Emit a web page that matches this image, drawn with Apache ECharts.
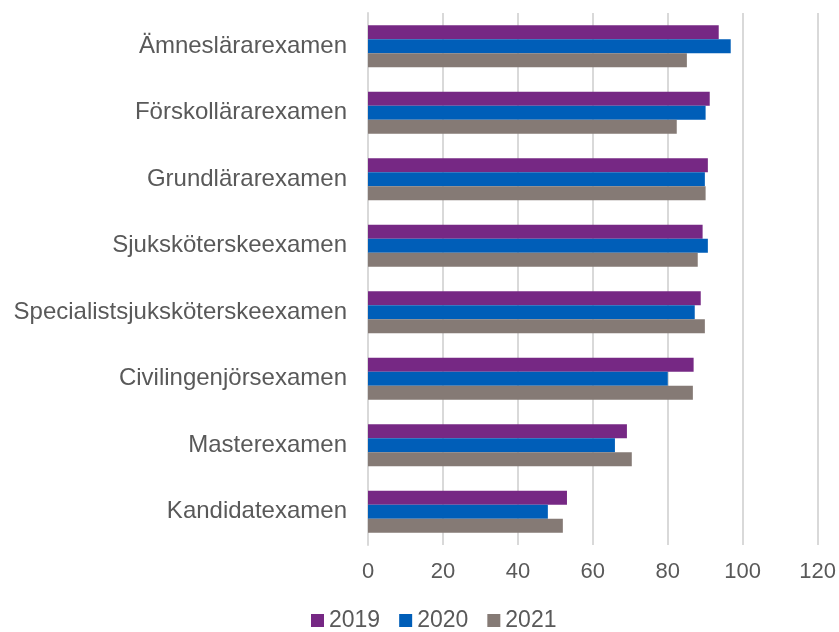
<!DOCTYPE html>
<html>
<head>
<meta charset="utf-8">
<script src="https://cdn.jsdelivr.net/npm/echarts@6/dist/echarts.min.js"></script>
<style>
html, body { margin: 0; padding: 0; background: #fff; }
#chart { width: 839px; height: 632px; }
</style>
</head>
<body>
<div id="chart"></div>
<script>
// examen, uppifrån och ned
var categories = ['Ämneslärarexamen', 'Förskollärarexamen', 'Grundlärarexamen', 'Sjuksköterskeexamen',
	'Specialistsjuksköterskeexamen', 'Civilingenjörsexamen', 'Masterexamen', 'Kandidatexamen'];
var years = ['2019', '2020', '2021'];
var v2019 = [93.6, 91.2, 90.7, 89.3, 88.8, 86.9, 69.1, 53.1];
var v2020 = [96.8, 90.1, 89.9, 90.7, 87.2, 80.0, 65.9, 48.0];
var v2021 = [85.1, 82.4, 90.1, 88.0, 89.9, 86.7, 70.4, 52.0];
var colors = ['#762884', '#005eb8', '#857a75'];

var chart = echarts.init(document.getElementById('chart'));
var font = '"Liberation Sans", Arial, sans-serif';

var seriesData = [v2019, v2020, v2021];
var series = [];
seriesData.forEach(function(d, i) {
	series.push({
		name: years[i],
		type: 'bar',
		data: d,
		barWidth: 14,
		barGap: '0%',
		itemStyle: { color: colors[i] }
	});
});

chart.setOption({
	animation: false,
	color: colors,
	textStyle: { fontFamily: font },
	grid: { left: 368, right: 21, top: 13, bottom: 87 },
	legend: {
		top: 609,
		left: 311,
		padding: 0,
		itemWidth: 13,
		itemHeight: 13,
		itemGap: 19,
		icon: 'rect',
		textStyle: { fontSize: 23, color: '#595959', fontFamily: font },
		data: years
	},
	xAxis: {
		type: 'value',
		min: 0,
		max: 120,
		interval: 20,
		axisLine: { show: false },
		axisTick: { show: false },
		axisLabel: { fontSize: 22, color: '#595959', margin: 16, fontFamily: font },
		splitLine: { lineStyle: { color: '#d9d9d9', width: 2 } }
	},
	yAxis: {
		type: 'category',
		inverse: true,
		data: categories,
		axisLine: { lineStyle: { color: '#d9d9d9', width: 2 } },
		axisTick: { show: false },
		axisLabel: { fontSize: 24, color: '#595959', margin: 21, fontFamily: font }
	},
	series: series
});
</script>
</body>
</html>
